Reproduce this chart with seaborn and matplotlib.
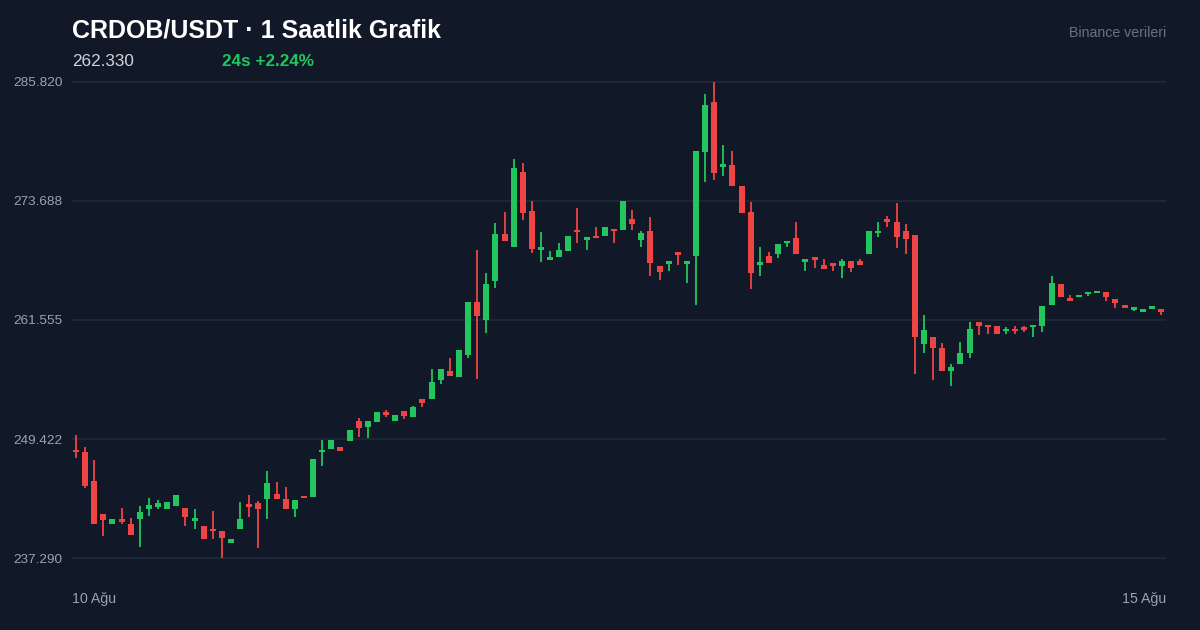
import numpy as np
import matplotlib
matplotlib.use("Agg")
import matplotlib.pyplot as plt
import seaborn as sns

# hourly OHLC (120 candles)
opens = [248.3, 248.1, 245.1, 241.8, 240.8, 241.3, 240.8, 241.3, 242.3, 242.5,
         242.3, 242.6, 242.4, 241.1, 240.6, 240.3, 240.0, 238.8, 240.3, 242.7,
         242.9, 243.3, 243.8, 243.3, 242.3, 243.6, 243.5, 248.1, 248.4, 248.6,
         249.2, 251.3, 250.6, 251.2, 252.2, 251.3, 252.3, 251.7, 253.5, 253.5,
         255.4, 256.4, 255.7, 258.0, 263.4, 261.6, 265.5, 270.3, 269.0, 276.6,
         272.7, 268.7, 267.7, 268.0, 268.6, 270.7, 269.7, 270.0, 270.1, 270.7,
         270.7, 271.8, 269.7, 270.6, 267.1, 267.3, 268.3, 267.3, 268.1, 278.7,
         283.8, 277.2, 277.4, 275.2, 272.6, 267.2, 268.1, 268.3, 269.4, 269.9,
         267.5, 267.9, 267.2, 267.3, 267.1, 267.6, 267.6, 268.3, 270.4, 271.8,
         271.5, 270.6, 270.2, 259.1, 259.8, 258.7, 256.4, 257.1, 258.2, 261.4,
         260.9, 260.9, 260.4, 260.6, 260.8, 260.8, 260.9, 263.1, 265.2, 263.6,
         263.9, 264.2, 264.3, 264.4, 263.7, 263.1, 262.6, 262.4, 262.7, 262.7]
closes = [248.1, 244.6, 240.8, 241.2, 241.3, 241.0, 239.6, 242.0, 242.7, 242.9,
          243.0, 243.7, 241.5, 241.2, 239.2, 240.0, 239.3, 239.2, 241.3, 242.5,
          242.3, 244.9, 243.3, 242.3, 243.2, 243.4, 247.4, 248.3, 249.3, 248.2,
          250.3, 250.5, 251.3, 252.2, 251.9, 251.9, 251.8, 252.7, 253.1, 255.2,
          256.6, 255.8, 258.5, 263.4, 262.0, 265.2, 270.3, 269.6, 277.0, 272.5,
          268.8, 268.8, 267.9, 268.7, 270.1, 270.5, 270.0, 269.9, 271.0, 270.6,
          273.7, 271.3, 270.4, 267.4, 266.4, 267.4, 268.2, 267.4, 278.8, 283.5,
          276.5, 277.5, 275.2, 272.5, 266.3, 267.5, 267.4, 269.3, 269.6, 268.3,
          267.6, 267.7, 266.8, 267.1, 267.6, 266.9, 267.2, 270.6, 270.5, 271.5,
          270.0, 269.8, 259.8, 260.5, 258.7, 256.4, 256.8, 258.2, 260.6, 260.9,
          260.8, 260.1, 260.5, 260.4, 260.5, 260.9, 263.0, 265.3, 263.9, 263.5,
          264.0, 264.3, 264.5, 263.9, 263.3, 262.8, 262.8, 262.5, 262.9, 262.33]
highs = [249.8, 248.6, 247.3, 241.8, 241.3, 242.4, 241.4, 242.6, 243.4, 243.2,
         243.0, 243.7, 242.4, 242.3, 240.6, 242.1, 240.0, 239.2, 243.0, 243.7,
         243.1, 246.2, 245.0, 244.5, 243.2, 243.6, 247.4, 249.3, 249.3, 248.6,
         250.3, 251.6, 251.3, 252.2, 252.4, 251.9, 252.3, 252.8, 253.5, 256.6,
         256.6, 257.7, 258.5, 263.4, 268.7, 266.3, 271.4, 272.6, 278.0, 277.6,
         273.7, 270.5, 268.6, 269.4, 270.1, 273.0, 270.0, 271.0, 271.0, 270.7,
         273.7, 272.8, 270.6, 272.1, 267.1, 267.4, 268.3, 267.4, 278.8, 284.6,
         285.8, 279.4, 278.8, 275.2, 273.6, 269.0, 268.5, 269.3, 269.6, 271.5,
         267.6, 268.0, 267.8, 267.4, 267.8, 267.6, 267.8, 270.6, 271.5, 272.2,
         273.5, 271.3, 270.2, 262.1, 259.8, 259.2, 257.1, 259.3, 261.4, 261.4,
         260.9, 260.9, 260.8, 260.9, 260.9, 260.9, 263.0, 266.0, 265.2, 264.1,
         264.0, 264.3, 264.5, 264.4, 263.7, 263.1, 262.9, 262.7, 262.9, 262.7]
lows = [247.5, 244.4, 240.8, 239.5, 240.8, 240.8, 239.6, 238.4, 241.6, 242.3,
        242.3, 242.6, 240.6, 240.3, 239.2, 239.2, 237.3, 238.8, 240.3, 241.5,
        238.3, 241.3, 243.3, 242.3, 241.5, 243.4, 243.5, 246.7, 248.4, 248.2,
        249.2, 249.6, 249.5, 251.2, 251.7, 251.3, 251.5, 251.7, 252.7, 253.5,
        255.0, 255.8, 255.7, 257.7, 255.5, 260.2, 264.8, 269.6, 269.0, 271.7,
        268.4, 267.5, 267.7, 268.0, 268.6, 269.4, 268.7, 269.9, 270.1, 269.4,
        270.7, 270.7, 269.0, 266.0, 265.6, 266.6, 267.2, 265.3, 263.1, 275.6,
        275.8, 276.2, 275.2, 272.5, 264.7, 266.0, 267.4, 267.9, 269.0, 268.3,
        266.6, 266.9, 266.8, 266.6, 265.8, 266.4, 267.2, 268.3, 270.0, 271.0,
        268.9, 268.3, 256.1, 258.2, 255.4, 256.4, 254.8, 257.1, 257.7, 260.0,
        260.1, 260.1, 260.1, 260.1, 260.3, 259.8, 260.3, 263.1, 263.9, 263.5,
        263.9, 264.0, 264.3, 263.5, 262.8, 262.8, 262.5, 262.4, 262.7, 262.1]

y_ticks = [237.290, 249.422, 261.555, 273.688, 285.820]
x_labels = ["10 Ağu", "15 Ağu"]

BG = "#111827"
UP = "#22c55e"
DOWN = "#ef4444"

sns.set_theme(style="dark")
plt.rcParams["font.family"] = ["Liberation Sans", "DejaVu Sans"]

fig = plt.figure(figsize=(12, 6.3), dpi=100, facecolor=BG)
ax = fig.add_axes([72 / 1200, 55 / 630, 1094 / 1200, 505 / 630])
ax.set_facecolor(BG)

o = np.array(opens)
c = np.array(closes)
h = np.array(highs)
l = np.array(lows)
x = np.arange(len(o))
colors = np.where(c >= o, UP, DOWN)

ax.vlines(x, l, h, colors=colors, linewidth=1.3, zorder=3)
body = np.maximum(np.abs(c - o), 0.25)
ax.bar(x, body, bottom=np.minimum(o, c), width=0.66, color=colors, zorder=4,
       linewidth=0)

ax.set_xlim(-0.44, len(o) - 0.45)
ax.set_ylim(235.56, 287.04)
ax.set_yticks(y_ticks)
ax.set_yticklabels([f"{v:.3f}" for v in y_ticks])
ax.tick_params(axis="y", colors="#9ca3af", labelsize=9.7, length=0, pad=7)
ax.set_xticks([])
ax.grid(axis="y", color="#1f2937", linewidth=1.2)
ax.grid(axis="x", visible=False)
for s in ax.spines.values():
    s.set_visible(False)

fig.text(72 / 1200, 1 - 30 / 630, "CRDOB/USDT · 1 Saatlik Grafik", color="white",
         fontsize=18, fontweight="bold", va="center", ha="left")
fig.text(72 / 1200, 1 - 61 / 630, f"{closes[-1]:.3f}", color="#d1d5db",
         fontsize=12.3, va="center", ha="left")
fig.text(222 / 1200, 1 - 61 / 630, "24s +2.24%", color=UP, fontsize=12.3,
         fontweight="bold", va="center", ha="left")
fig.text(1166 / 1200, 1 - 33 / 630, "Binance verileri", color="#6b7280",
         fontsize=10.2, va="center", ha="right")
fig.text(72 / 1200, 1 - 599 / 630, x_labels[0], color="#9ca3af", fontsize=10.2,
         va="center", ha="left")
fig.text(1166 / 1200, 1 - 599 / 630, x_labels[1], color="#9ca3af", fontsize=10.2,
         va="center", ha="right")

fig.savefig("out.png", dpi=100, facecolor=BG)
